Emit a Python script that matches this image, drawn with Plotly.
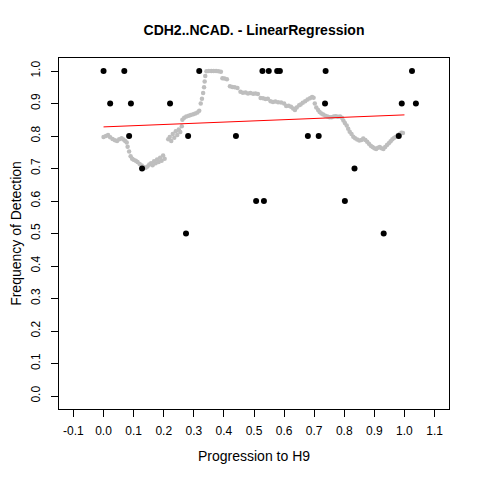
import plotly.graph_objects as go

# ---- data ----
# smoothed trace (grey)
smooth_x = [0.000, 0.008, 0.015, 0.022, 0.030, 0.038, 0.045, 0.052, 0.060, 0.066,
            0.072, 0.077, 0.080, 0.085, 0.090, 0.095, 0.100, 0.107, 0.113, 0.120,
            0.127, 0.133, 0.140, 0.146, 0.152, 0.158, 0.163, 0.168, 0.173, 0.178,
            0.183, 0.188, 0.193, 0.198, 0.203,
            0.215, 0.220, 0.225, 0.230, 0.235, 0.240, 0.245, 0.250, 0.255, 0.260,
            0.262, 0.268, 0.275, 0.283, 0.290, 0.298, 0.305, 0.312, 0.318, 0.323,
            0.327, 0.331, 0.334, 0.336, 0.338, 0.342, 0.350, 0.358, 0.366, 0.374,
            0.382, 0.390, 0.395, 0.402, 0.410, 0.420, 0.428, 0.436, 0.445,
            0.455, 0.463, 0.472, 0.480, 0.488, 0.497, 0.505, 0.513, 0.522, 0.530,
            0.538, 0.546, 0.555, 0.563, 0.571, 0.580, 0.590, 0.600, 0.607, 0.615,
            0.623, 0.630, 0.636, 0.642, 0.650,
            0.655, 0.662, 0.670, 0.678, 0.686, 0.693, 0.698, 0.702, 0.707, 0.713,
            0.718, 0.724, 0.730, 0.737, 0.744, 0.751, 0.758, 0.765, 0.772, 0.779,
            0.786, 0.792, 0.797, 0.802, 0.808, 0.813, 0.818, 0.824, 0.830, 0.836,
            0.843, 0.850, 0.857, 0.863, 0.870, 0.876, 0.882, 0.888, 0.894, 0.900,
            0.906, 0.912, 0.918, 0.924, 0.930, 0.936, 0.942, 0.948, 0.954, 0.960,
            0.966, 0.972, 0.978, 0.984, 0.990, 0.995]
smooth_y = [0.797, 0.800, 0.803, 0.796, 0.791, 0.787, 0.785, 0.790, 0.793, 0.789,
            0.785, 0.780, 0.767, 0.752, 0.738, 0.730, 0.727, 0.724, 0.720, 0.714,
            0.709, 0.705, 0.702, 0.706, 0.712, 0.716, 0.710, 0.722, 0.716, 0.728,
            0.720, 0.733, 0.724, 0.740, 0.730,
            0.790, 0.797, 0.785, 0.806, 0.795, 0.815, 0.803, 0.820, 0.812, 0.830,
            0.850, 0.856, 0.860, 0.862, 0.865, 0.867, 0.869, 0.872, 0.878, 0.900,
            0.915, 0.932, 0.950, 0.968, 0.985, 0.999, 1.000, 1.000, 1.000, 1.000,
            0.999, 0.998, 0.978, 0.977, 0.975, 0.953, 0.951, 0.950, 0.948,
            0.936, 0.933, 0.934, 0.931, 0.932, 0.930, 0.931, 0.929, 0.917, 0.916,
            0.914, 0.915, 0.907, 0.905, 0.906, 0.904, 0.903, 0.900, 0.892, 0.893,
            0.890, 0.885, 0.880, 0.888, 0.895,
            0.897, 0.902, 0.907, 0.912, 0.916, 0.920, 0.918, 0.900, 0.888, 0.880,
            0.874, 0.869, 0.866, 0.862, 0.860, 0.858, 0.858, 0.860, 0.861, 0.859,
            0.860, 0.856, 0.848, 0.840, 0.832, 0.822, 0.813, 0.806, 0.798, 0.793,
            0.789, 0.786, 0.788, 0.792, 0.788, 0.782, 0.776, 0.770, 0.766, 0.762,
            0.760, 0.764, 0.766, 0.762, 0.760, 0.766, 0.772, 0.778, 0.784, 0.790,
            0.795, 0.798, 0.802, 0.806, 0.810, 0.809]

# observed detections (black)
obs_x = [0.000, 0.069, 0.318, 0.528, 0.549, 0.577, 0.586, 0.738, 1.025,
         0.022, 0.091, 0.221, 0.736, 0.991, 1.038,
         0.085, 0.281, 0.440, 0.679, 0.715, 0.981,
         0.128, 0.834,
         0.507, 0.533, 0.802,
         0.274, 0.931]
obs_y = [1.0, 1.0, 1.0, 1.0, 1.0, 1.0, 1.0, 1.0, 1.0,
         0.9, 0.9, 0.9, 0.9, 0.9, 0.9,
         0.8, 0.8, 0.8, 0.8, 0.8, 0.8,
         0.7, 0.7,
         0.6, 0.6, 0.6,
         0.5, 0.5]

# linear regression line
fit_x = [0.0, 1.0]
fit_y = [0.828, 0.865]

x_ticks = [-0.1, 0.0, 0.1, 0.2, 0.3, 0.4, 0.5, 0.6, 0.7, 0.8, 0.9, 1.0, 1.1]
y_ticks = [0.0, 0.1, 0.2, 0.3, 0.4, 0.5, 0.6, 0.7, 0.8, 0.9, 1.0]

FONT = "Liberation Sans, Arial, Helvetica, sans-serif"

fig = go.Figure()
fig.add_trace(go.Scatter(x=smooth_x, y=smooth_y, mode="markers",
                         marker=dict(color="#bebebe", size=4.5), hoverinfo="skip"))
fig.add_trace(go.Scatter(x=fit_x, y=fit_y, mode="lines",
                         line=dict(color="red", width=1), hoverinfo="skip"))
fig.add_trace(go.Scatter(x=obs_x, y=obs_y, mode="markers",
                         marker=dict(color="black", size=6), hoverinfo="skip"))

# the page body adds an 8px offset, so margins are shifted to compensate
fig.update_layout(
    width=480, height=480,
    margin=dict(l=51, r=39, t=50, b=79),
    plot_bgcolor="white", paper_bgcolor="white",
    showlegend=False,
    font=dict(family=FONT, size=12, color="black"),
    title=dict(text="<b>CDH2..NCAD. - LinearRegression</b>",
               xref="paper", x=0.5, xanchor="center",
               y=1 - 22 / 480, yanchor="middle",
               font=dict(size=14, family=FONT)),
)
fig.update_xaxes(
    range=[-0.148, 1.148], tickvals=x_ticks,
    ticktext=[f"{v:.1f}" for v in x_ticks],
    ticks="outside", ticklen=7, tickcolor="black", ticklabelstandoff=4,
    showline=True, linecolor="black", linewidth=1, mirror=True,
    showgrid=False, zeroline=False, automargin=False,
    title=dict(text="Progression to H9", standoff=13),
)
fig.update_yaxes(
    range=[-0.04, 1.04], tickvals=y_ticks,
    ticktext=[f"{v:.1f}" for v in y_ticks], tickangle=-90,
    ticks="outside", ticklen=7, tickcolor="black", ticklabelstandoff=6,
    showline=True, linecolor="black", linewidth=1, mirror=True,
    showgrid=False, zeroline=False, automargin=False,
    title=dict(text="Frequency of Detection", standoff=26),
)

fig.write_html("out.html", config={"displayModeBar": False})
